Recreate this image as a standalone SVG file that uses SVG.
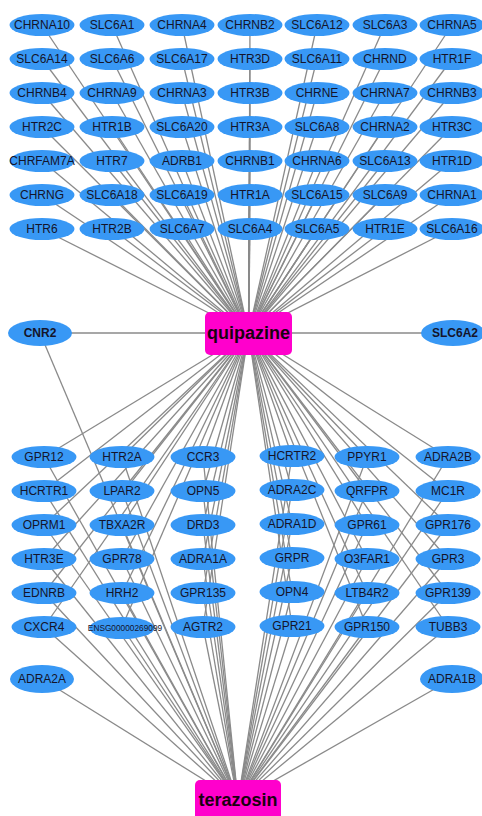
<svg xmlns="http://www.w3.org/2000/svg" width="482" height="816" viewBox="0 0 482 816">
<style>
.e{stroke:#8a8a8a;stroke-width:1.3;fill:none}
.n ellipse{fill:#3898f5}
.n text{font-family:"Liberation Sans",Arial,sans-serif;font-size:12px;fill:#14142a;text-anchor:middle;dominant-baseline:central}
.b text{font-weight:bold}
.d rect{fill:#ff00cc}
.d text{font-family:"Liberation Sans",Arial,sans-serif;font-size:18px;font-weight:bold;fill:#1a0010;text-anchor:middle;dominant-baseline:central}
</style>
<g id="edges">
<line class="e" x1="248.5" y1="333" x2="42" y2="25"/><line class="e" x1="248.5" y1="333" x2="112" y2="25"/><line class="e" x1="248.5" y1="333" x2="182" y2="25"/><line class="e" x1="248.5" y1="333" x2="250" y2="25"/><line class="e" x1="248.5" y1="333" x2="317" y2="25"/><line class="e" x1="248.5" y1="333" x2="385" y2="25"/><line class="e" x1="248.5" y1="333" x2="452" y2="25"/>
<line class="e" x1="248.5" y1="333" x2="42" y2="59"/><line class="e" x1="248.5" y1="333" x2="112" y2="59"/><line class="e" x1="248.5" y1="333" x2="182" y2="59"/><line class="e" x1="248.5" y1="333" x2="250" y2="59"/><line class="e" x1="248.5" y1="333" x2="317" y2="59"/><line class="e" x1="248.5" y1="333" x2="385" y2="59"/><line class="e" x1="248.5" y1="333" x2="452" y2="59"/>
<line class="e" x1="248.5" y1="333" x2="42" y2="93"/><line class="e" x1="248.5" y1="333" x2="112" y2="93"/><line class="e" x1="248.5" y1="333" x2="182" y2="93"/><line class="e" x1="248.5" y1="333" x2="250" y2="93"/><line class="e" x1="248.5" y1="333" x2="317" y2="93"/><line class="e" x1="248.5" y1="333" x2="385" y2="93"/><line class="e" x1="248.5" y1="333" x2="452" y2="93"/>
<line class="e" x1="248.5" y1="333" x2="42" y2="127"/><line class="e" x1="248.5" y1="333" x2="112" y2="127"/><line class="e" x1="248.5" y1="333" x2="182" y2="127"/><line class="e" x1="248.5" y1="333" x2="250" y2="127"/><line class="e" x1="248.5" y1="333" x2="317" y2="127"/><line class="e" x1="248.5" y1="333" x2="385" y2="127"/><line class="e" x1="248.5" y1="333" x2="452" y2="127"/>
<line class="e" x1="248.5" y1="333" x2="42" y2="161"/><line class="e" x1="248.5" y1="333" x2="112" y2="161"/><line class="e" x1="248.5" y1="333" x2="182" y2="161"/><line class="e" x1="248.5" y1="333" x2="250" y2="161"/><line class="e" x1="248.5" y1="333" x2="317" y2="161"/><line class="e" x1="248.5" y1="333" x2="385" y2="161"/><line class="e" x1="248.5" y1="333" x2="452" y2="161"/>
<line class="e" x1="248.5" y1="333" x2="42" y2="195"/><line class="e" x1="248.5" y1="333" x2="112" y2="195"/><line class="e" x1="248.5" y1="333" x2="182" y2="195"/><line class="e" x1="248.5" y1="333" x2="250" y2="195"/><line class="e" x1="248.5" y1="333" x2="317" y2="195"/><line class="e" x1="248.5" y1="333" x2="385" y2="195"/><line class="e" x1="248.5" y1="333" x2="452" y2="195"/>
<line class="e" x1="248.5" y1="333" x2="42" y2="229"/><line class="e" x1="248.5" y1="333" x2="112" y2="229"/><line class="e" x1="248.5" y1="333" x2="182" y2="229"/><line class="e" x1="248.5" y1="333" x2="250" y2="229"/><line class="e" x1="248.5" y1="333" x2="317" y2="229"/><line class="e" x1="248.5" y1="333" x2="385" y2="229"/><line class="e" x1="248.5" y1="333" x2="452" y2="229"/>
<line class="e" x1="248.5" y1="333" x2="40" y2="333"/><line class="e" x1="248.5" y1="333" x2="453" y2="333"/>
<line class="e" x1="238" y1="801" x2="40" y2="333"/>
<line class="e" x1="248.5" y1="333" x2="44" y2="457"/><line class="e" x1="248.5" y1="333" x2="44" y2="491"/><line class="e" x1="248.5" y1="333" x2="44" y2="525"/><line class="e" x1="248.5" y1="333" x2="44" y2="559"/><line class="e" x1="248.5" y1="333" x2="44" y2="593"/><line class="e" x1="248.5" y1="333" x2="44" y2="627"/>
<line class="e" x1="248.5" y1="333" x2="122" y2="457"/><line class="e" x1="248.5" y1="333" x2="122" y2="491"/><line class="e" x1="248.5" y1="333" x2="122" y2="525"/><line class="e" x1="248.5" y1="333" x2="122" y2="559"/><line class="e" x1="248.5" y1="333" x2="122" y2="593"/><line class="e" x1="248.5" y1="333" x2="122" y2="627"/>
<line class="e" x1="248.5" y1="333" x2="203" y2="457"/><line class="e" x1="248.5" y1="333" x2="203" y2="491"/><line class="e" x1="248.5" y1="333" x2="203" y2="525"/><line class="e" x1="248.5" y1="333" x2="203" y2="559"/><line class="e" x1="248.5" y1="333" x2="203" y2="593"/><line class="e" x1="248.5" y1="333" x2="203" y2="627"/>
<line class="e" x1="248.5" y1="333" x2="292" y2="456"/><line class="e" x1="248.5" y1="333" x2="292" y2="490"/><line class="e" x1="248.5" y1="333" x2="292" y2="524"/><line class="e" x1="248.5" y1="333" x2="292" y2="558"/><line class="e" x1="248.5" y1="333" x2="292" y2="592"/><line class="e" x1="248.5" y1="333" x2="292" y2="626"/>
<line class="e" x1="248.5" y1="333" x2="367" y2="457"/><line class="e" x1="248.5" y1="333" x2="367" y2="491"/><line class="e" x1="248.5" y1="333" x2="367" y2="525"/><line class="e" x1="248.5" y1="333" x2="367" y2="559"/><line class="e" x1="248.5" y1="333" x2="367" y2="593"/><line class="e" x1="248.5" y1="333" x2="367" y2="627"/>
<line class="e" x1="248.5" y1="333" x2="448" y2="457"/><line class="e" x1="248.5" y1="333" x2="448" y2="491"/><line class="e" x1="248.5" y1="333" x2="448" y2="525"/><line class="e" x1="248.5" y1="333" x2="448" y2="559"/><line class="e" x1="248.5" y1="333" x2="448" y2="593"/><line class="e" x1="248.5" y1="333" x2="448" y2="627"/>
<line class="e" x1="238" y1="801" x2="44" y2="457"/><line class="e" x1="238" y1="801" x2="44" y2="491"/><line class="e" x1="238" y1="801" x2="44" y2="525"/><line class="e" x1="238" y1="801" x2="44" y2="559"/><line class="e" x1="238" y1="801" x2="44" y2="593"/><line class="e" x1="238" y1="801" x2="44" y2="627"/>
<line class="e" x1="238" y1="801" x2="122" y2="457"/><line class="e" x1="238" y1="801" x2="122" y2="491"/><line class="e" x1="238" y1="801" x2="122" y2="525"/><line class="e" x1="238" y1="801" x2="122" y2="559"/><line class="e" x1="238" y1="801" x2="122" y2="593"/><line class="e" x1="238" y1="801" x2="122" y2="627"/>
<line class="e" x1="238" y1="801" x2="203" y2="457"/><line class="e" x1="238" y1="801" x2="203" y2="491"/><line class="e" x1="238" y1="801" x2="203" y2="525"/><line class="e" x1="238" y1="801" x2="203" y2="559"/><line class="e" x1="238" y1="801" x2="203" y2="593"/><line class="e" x1="238" y1="801" x2="203" y2="627"/>
<line class="e" x1="238" y1="801" x2="292" y2="456"/><line class="e" x1="238" y1="801" x2="292" y2="490"/><line class="e" x1="238" y1="801" x2="292" y2="524"/><line class="e" x1="238" y1="801" x2="292" y2="558"/><line class="e" x1="238" y1="801" x2="292" y2="592"/><line class="e" x1="238" y1="801" x2="292" y2="626"/>
<line class="e" x1="238" y1="801" x2="367" y2="457"/><line class="e" x1="238" y1="801" x2="367" y2="491"/><line class="e" x1="238" y1="801" x2="367" y2="525"/><line class="e" x1="238" y1="801" x2="367" y2="559"/><line class="e" x1="238" y1="801" x2="367" y2="593"/><line class="e" x1="238" y1="801" x2="367" y2="627"/>
<line class="e" x1="238" y1="801" x2="448" y2="457"/><line class="e" x1="238" y1="801" x2="448" y2="491"/><line class="e" x1="238" y1="801" x2="448" y2="525"/><line class="e" x1="238" y1="801" x2="448" y2="559"/><line class="e" x1="238" y1="801" x2="448" y2="593"/><line class="e" x1="238" y1="801" x2="448" y2="627"/>
<line class="e" x1="238" y1="801" x2="42" y2="679"/><line class="e" x1="238" y1="801" x2="452" y2="679"/>
</g>
<g id="n-CHRNA10" class="n"><ellipse cx="42" cy="25" rx="32.5" ry="11"/><text x="42" y="25">CHRNA10</text></g>
<g id="n-SLC6A1" class="n"><ellipse cx="112" cy="25" rx="32.5" ry="11"/><text x="112" y="25">SLC6A1</text></g>
<g id="n-CHRNA4" class="n"><ellipse cx="182" cy="25" rx="32.5" ry="11"/><text x="182" y="25">CHRNA4</text></g>
<g id="n-CHRNB2" class="n"><ellipse cx="250" cy="25" rx="32.5" ry="11"/><text x="250" y="25">CHRNB2</text></g>
<g id="n-SLC6A12" class="n"><ellipse cx="317" cy="25" rx="32.5" ry="11"/><text x="317" y="25">SLC6A12</text></g>
<g id="n-SLC6A3" class="n"><ellipse cx="385" cy="25" rx="32.5" ry="11"/><text x="385" y="25">SLC6A3</text></g>
<g id="n-CHRNA5" class="n"><ellipse cx="452" cy="25" rx="32.5" ry="11"/><text x="452" y="25">CHRNA5</text></g>
<g id="n-SLC6A14" class="n"><ellipse cx="42" cy="59" rx="32.5" ry="11"/><text x="42" y="59">SLC6A14</text></g>
<g id="n-SLC6A6" class="n"><ellipse cx="112" cy="59" rx="32.5" ry="11"/><text x="112" y="59">SLC6A6</text></g>
<g id="n-SLC6A17" class="n"><ellipse cx="182" cy="59" rx="32.5" ry="11"/><text x="182" y="59">SLC6A17</text></g>
<g id="n-HTR3D" class="n"><ellipse cx="250" cy="59" rx="32.5" ry="11"/><text x="250" y="59">HTR3D</text></g>
<g id="n-SLC6A11" class="n"><ellipse cx="317" cy="59" rx="32.5" ry="11"/><text x="317" y="59">SLC6A11</text></g>
<g id="n-CHRND" class="n"><ellipse cx="385" cy="59" rx="32.5" ry="11"/><text x="385" y="59">CHRND</text></g>
<g id="n-HTR1F" class="n"><ellipse cx="452" cy="59" rx="32.5" ry="11"/><text x="452" y="59">HTR1F</text></g>
<g id="n-CHRNB4" class="n"><ellipse cx="42" cy="93" rx="32.5" ry="11"/><text x="42" y="93">CHRNB4</text></g>
<g id="n-CHRNA9" class="n"><ellipse cx="112" cy="93" rx="32.5" ry="11"/><text x="112" y="93">CHRNA9</text></g>
<g id="n-CHRNA3" class="n"><ellipse cx="182" cy="93" rx="32.5" ry="11"/><text x="182" y="93">CHRNA3</text></g>
<g id="n-HTR3B" class="n"><ellipse cx="250" cy="93" rx="32.5" ry="11"/><text x="250" y="93">HTR3B</text></g>
<g id="n-CHRNE" class="n"><ellipse cx="317" cy="93" rx="32.5" ry="11"/><text x="317" y="93">CHRNE</text></g>
<g id="n-CHRNA7" class="n"><ellipse cx="385" cy="93" rx="32.5" ry="11"/><text x="385" y="93">CHRNA7</text></g>
<g id="n-CHRNB3" class="n"><ellipse cx="452" cy="93" rx="32.5" ry="11"/><text x="452" y="93">CHRNB3</text></g>
<g id="n-HTR2C" class="n"><ellipse cx="42" cy="127" rx="32.5" ry="11"/><text x="42" y="127">HTR2C</text></g>
<g id="n-HTR1B" class="n"><ellipse cx="112" cy="127" rx="32.5" ry="11"/><text x="112" y="127">HTR1B</text></g>
<g id="n-SLC6A20" class="n"><ellipse cx="182" cy="127" rx="32.5" ry="11"/><text x="182" y="127">SLC6A20</text></g>
<g id="n-HTR3A" class="n"><ellipse cx="250" cy="127" rx="32.5" ry="11"/><text x="250" y="127">HTR3A</text></g>
<g id="n-SLC6A8" class="n"><ellipse cx="317" cy="127" rx="32.5" ry="11"/><text x="317" y="127">SLC6A8</text></g>
<g id="n-CHRNA2" class="n"><ellipse cx="385" cy="127" rx="32.5" ry="11"/><text x="385" y="127">CHRNA2</text></g>
<g id="n-HTR3C" class="n"><ellipse cx="452" cy="127" rx="32.5" ry="11"/><text x="452" y="127">HTR3C</text></g>
<g id="n-CHRFAM7A" class="n"><ellipse cx="42" cy="161" rx="32.5" ry="11"/><text x="42" y="161">CHRFAM7A</text></g>
<g id="n-HTR7" class="n"><ellipse cx="112" cy="161" rx="32.5" ry="11"/><text x="112" y="161">HTR7</text></g>
<g id="n-ADRB1" class="n"><ellipse cx="182" cy="161" rx="32.5" ry="11"/><text x="182" y="161">ADRB1</text></g>
<g id="n-CHRNB1" class="n"><ellipse cx="250" cy="161" rx="32.5" ry="11"/><text x="250" y="161">CHRNB1</text></g>
<g id="n-CHRNA6" class="n"><ellipse cx="317" cy="161" rx="32.5" ry="11"/><text x="317" y="161">CHRNA6</text></g>
<g id="n-SLC6A13" class="n"><ellipse cx="385" cy="161" rx="32.5" ry="11"/><text x="385" y="161">SLC6A13</text></g>
<g id="n-HTR1D" class="n"><ellipse cx="452" cy="161" rx="32.5" ry="11"/><text x="452" y="161">HTR1D</text></g>
<g id="n-CHRNG" class="n"><ellipse cx="42" cy="195" rx="32.5" ry="11"/><text x="42" y="195">CHRNG</text></g>
<g id="n-SLC6A18" class="n"><ellipse cx="112" cy="195" rx="32.5" ry="11"/><text x="112" y="195">SLC6A18</text></g>
<g id="n-SLC6A19" class="n"><ellipse cx="182" cy="195" rx="32.5" ry="11"/><text x="182" y="195">SLC6A19</text></g>
<g id="n-HTR1A" class="n"><ellipse cx="250" cy="195" rx="32.5" ry="11"/><text x="250" y="195">HTR1A</text></g>
<g id="n-SLC6A15" class="n"><ellipse cx="317" cy="195" rx="32.5" ry="11"/><text x="317" y="195">SLC6A15</text></g>
<g id="n-SLC6A9" class="n"><ellipse cx="385" cy="195" rx="32.5" ry="11"/><text x="385" y="195">SLC6A9</text></g>
<g id="n-CHRNA1" class="n"><ellipse cx="452" cy="195" rx="32.5" ry="11"/><text x="452" y="195">CHRNA1</text></g>
<g id="n-HTR6" class="n"><ellipse cx="42" cy="229" rx="32.5" ry="11"/><text x="42" y="229">HTR6</text></g>
<g id="n-HTR2B" class="n"><ellipse cx="112" cy="229" rx="32.5" ry="11"/><text x="112" y="229">HTR2B</text></g>
<g id="n-SLC6A7" class="n"><ellipse cx="182" cy="229" rx="32.5" ry="11"/><text x="182" y="229">SLC6A7</text></g>
<g id="n-SLC6A4" class="n"><ellipse cx="250" cy="229" rx="32.5" ry="11"/><text x="250" y="229">SLC6A4</text></g>
<g id="n-SLC6A5" class="n"><ellipse cx="317" cy="229" rx="32.5" ry="11"/><text x="317" y="229">SLC6A5</text></g>
<g id="n-HTR1E" class="n"><ellipse cx="385" cy="229" rx="32.5" ry="11"/><text x="385" y="229">HTR1E</text></g>
<g id="n-SLC6A16" class="n"><ellipse cx="452" cy="229" rx="32.5" ry="11"/><text x="452" y="229">SLC6A16</text></g>
<g id="n-CNR2" class="n b"><ellipse cx="40" cy="333" rx="32" ry="13"/><text x="40" y="333">CNR2</text></g>
<g id="n-SLC6A2" class="n b"><ellipse cx="453" cy="333" rx="32" ry="13"/><text x="455" y="333">SLC6A2</text></g>
<g id="n-quipazine" class="d"><rect x="205" y="312" width="87" height="43" rx="5"/><text x="248.5" y="333">quipazine</text></g>
<g id="n-GPR12" class="n"><ellipse cx="44" cy="457" rx="32.5" ry="11"/><text x="44" y="457">GPR12</text></g>
<g id="n-HCRTR1" class="n"><ellipse cx="44" cy="491" rx="32.5" ry="11"/><text x="44" y="491">HCRTR1</text></g>
<g id="n-OPRM1" class="n"><ellipse cx="44" cy="525" rx="32.5" ry="11"/><text x="44" y="525">OPRM1</text></g>
<g id="n-HTR3E" class="n"><ellipse cx="44" cy="559" rx="32.5" ry="11"/><text x="44" y="559">HTR3E</text></g>
<g id="n-EDNRB" class="n"><ellipse cx="44" cy="593" rx="32.5" ry="11"/><text x="44" y="593">EDNRB</text></g>
<g id="n-CXCR4" class="n"><ellipse cx="44" cy="627" rx="32.5" ry="11"/><text x="44" y="627">CXCR4</text></g>
<g id="n-HTR2A" class="n"><ellipse cx="122" cy="457" rx="32.5" ry="11"/><text x="122" y="457">HTR2A</text></g>
<g id="n-LPAR2" class="n"><ellipse cx="122" cy="491" rx="32.5" ry="11"/><text x="122" y="491">LPAR2</text></g>
<g id="n-TBXA2R" class="n"><ellipse cx="122" cy="525" rx="32.5" ry="11"/><text x="122" y="525">TBXA2R</text></g>
<g id="n-GPR78" class="n"><ellipse cx="122" cy="559" rx="32.5" ry="11"/><text x="122" y="559">GPR78</text></g>
<g id="n-HRH2" class="n"><ellipse cx="122" cy="593" rx="32.5" ry="11"/><text x="122" y="593">HRH2</text></g>
<g id="n-ENSG00000269099" class="n"><ellipse cx="122" cy="628" rx="32.5" ry="11"/><text x="125" y="628" style="font-size:8.3px">ENSG00000269099</text></g>
<g id="n-CCR3" class="n"><ellipse cx="203" cy="457" rx="32.5" ry="11"/><text x="203" y="457">CCR3</text></g>
<g id="n-OPN5" class="n"><ellipse cx="203" cy="491" rx="32.5" ry="11"/><text x="203" y="491">OPN5</text></g>
<g id="n-DRD3" class="n"><ellipse cx="203" cy="525" rx="32.5" ry="11"/><text x="203" y="525">DRD3</text></g>
<g id="n-ADRA1A" class="n"><ellipse cx="203" cy="559" rx="32.5" ry="11"/><text x="203" y="559">ADRA1A</text></g>
<g id="n-GPR135" class="n"><ellipse cx="203" cy="593" rx="32.5" ry="11"/><text x="203" y="593">GPR135</text></g>
<g id="n-AGTR2" class="n"><ellipse cx="203" cy="627" rx="32.5" ry="11"/><text x="203" y="627">AGTR2</text></g>
<g id="n-HCRTR2" class="n"><ellipse cx="292" cy="456" rx="32.5" ry="11"/><text x="292" y="456">HCRTR2</text></g>
<g id="n-ADRA2C" class="n"><ellipse cx="292" cy="490" rx="32.5" ry="11"/><text x="292" y="490">ADRA2C</text></g>
<g id="n-ADRA1D" class="n"><ellipse cx="292" cy="524" rx="32.5" ry="11"/><text x="292" y="524">ADRA1D</text></g>
<g id="n-GRPR" class="n"><ellipse cx="292" cy="558" rx="32.5" ry="11"/><text x="292" y="558">GRPR</text></g>
<g id="n-OPN4" class="n"><ellipse cx="292" cy="592" rx="32.5" ry="11"/><text x="292" y="592">OPN4</text></g>
<g id="n-GPR21" class="n"><ellipse cx="292" cy="626" rx="32.5" ry="11"/><text x="292" y="626">GPR21</text></g>
<g id="n-PPYR1" class="n"><ellipse cx="367" cy="457" rx="32.5" ry="11"/><text x="367" y="457">PPYR1</text></g>
<g id="n-QRFPR" class="n"><ellipse cx="367" cy="491" rx="32.5" ry="11"/><text x="367" y="491">QRFPR</text></g>
<g id="n-GPR61" class="n"><ellipse cx="367" cy="525" rx="32.5" ry="11"/><text x="367" y="525">GPR61</text></g>
<g id="n-O3FAR1" class="n"><ellipse cx="367" cy="559" rx="32.5" ry="11"/><text x="367" y="559">O3FAR1</text></g>
<g id="n-LTB4R2" class="n"><ellipse cx="367" cy="593" rx="32.5" ry="11"/><text x="367" y="593">LTB4R2</text></g>
<g id="n-GPR150" class="n"><ellipse cx="367" cy="627" rx="32.5" ry="11"/><text x="367" y="627">GPR150</text></g>
<g id="n-ADRA2B" class="n"><ellipse cx="448" cy="457" rx="32.5" ry="11"/><text x="448" y="457">ADRA2B</text></g>
<g id="n-MC1R" class="n"><ellipse cx="448" cy="491" rx="32.5" ry="11"/><text x="448" y="491">MC1R</text></g>
<g id="n-GPR176" class="n"><ellipse cx="448" cy="525" rx="32.5" ry="11"/><text x="448" y="525">GPR176</text></g>
<g id="n-GPR3" class="n"><ellipse cx="448" cy="559" rx="32.5" ry="11"/><text x="448" y="559">GPR3</text></g>
<g id="n-GPR139" class="n"><ellipse cx="448" cy="593" rx="32.5" ry="11"/><text x="448" y="593">GPR139</text></g>
<g id="n-TUBB3" class="n"><ellipse cx="448" cy="627" rx="32.5" ry="11"/><text x="448" y="627">TUBB3</text></g>
<g id="n-ADRA2A" class="n"><ellipse cx="42" cy="679" rx="32" ry="14"/><text x="42" y="679">ADRA2A</text></g>
<g id="n-ADRA1B" class="n"><ellipse cx="452" cy="679" rx="32" ry="14"/><text x="452" y="679">ADRA1B</text></g>
<g id="n-terazosin" class="d"><rect x="195" y="780" width="86" height="45" rx="5"/><text x="238" y="800">terazosin</text></g>
</svg>
